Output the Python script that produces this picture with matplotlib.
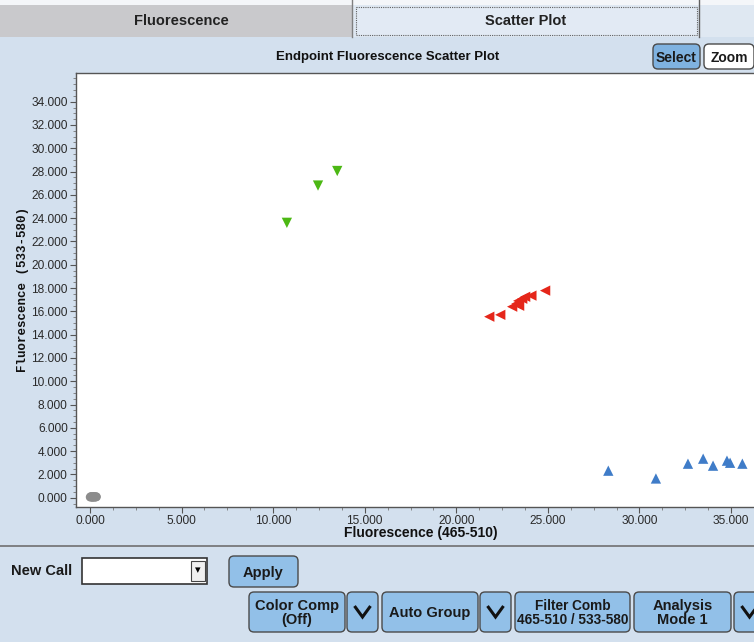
import matplotlib
matplotlib.use("Agg")
import matplotlib.pyplot as plt
from matplotlib.patches import Rectangle, FancyBboxPatch
from matplotlib.ticker import MultipleLocator, FixedLocator, FuncFormatter
from matplotlib import font_manager

# ---- data: endpoint fluorescence (465-510 vs 533-580) per sample group ----
neg_x = [10, 80, 150, 220, 290, 350, 50, 120, 190, 260, 330]
neg_y = [50, 80, 40, 90, 60, 70, 100, 30, 110, 40, 90]

green_x = [10750, 12450, 13500]
green_y = [23600, 26800, 28050]

red_x = [21800, 22400, 23050, 23280, 23430, 23380, 23600, 23760, 24100, 24850]
red_y = [15540, 15700, 16400, 16650, 16480, 16900, 17080, 17250, 17350, 17780]

blue_x = [28300, 30900, 32650, 33480, 34020, 34780, 34950, 35620]
blue_y = [2320, 1650, 2920, 3350, 2750, 3180, 3000, 2920]

x_ticks = [0, 5000, 10000, 15000, 20000, 25000, 30000, 35000]
y_ticks = list(range(0, 34001, 2000))

W, H = 754, 642
installed = {f.name for f in font_manager.fontManager.ttflist}
sans = [f for f in ["Liberation Sans Narrow", "Liberation Sans", "DejaVu Sans"] if f in installed]
mono = [f for f in ["Liberation Mono", "DejaVu Sans Mono", "Noto Sans Mono"] if f in installed]
plt.rcParams["font.family"] = sans

fig = plt.figure(figsize=(W / 100, H / 100), dpi=100)
fig.patch.set_facecolor("#d3e0ee")

# full-figure pixel canvas for the surrounding panel
ui = fig.add_axes([0, 0, 1, 1], zorder=0)
ui.set_xlim(0, W)
ui.set_ylim(H, 0)
ui.axis("off")

PANEL = "#d3e0ee"
BTN = "#92c0e8"
EDGE = "#4a4a4a"

ui.add_patch(Rectangle((0, 0), W, H, facecolor=PANEL, edgecolor="none"))
# tab strip
ui.add_patch(Rectangle((0, 0), W, 37, facecolor="#dfe8f2", edgecolor="none"))
ui.add_patch(Rectangle((0, 0), W, 5, facecolor="#f4f6f9", edgecolor="none"))
ui.add_patch(Rectangle((0, 5), 352, 32, facecolor="#c9c9cc", edgecolor="none"))
ui.plot([352, 352], [0, 37], color="#808080", lw=1)
ui.add_patch(Rectangle((356, 7), 341, 28, facecolor="#e2eaf4", edgecolor="#606060",
                       lw=0.8, ls=(0, (1, 1))))
ui.plot([699, 699], [0, 37], color="#606060", lw=1)
ui.text(181, 21, "Fluorescence", ha="center", va="center", fontsize=10.5,
        fontweight="bold", color="#222222")
ui.text(526, 21, "Scatter Plot", ha="center", va="center", fontsize=10.5,
        fontweight="bold", color="#222222")

ui.text(388, 57, "Endpoint Fluorescence Scatter Plot", ha="center", va="center",
        fontsize=9.5, fontweight="bold", color="#111111")


def button(x0, y0, w, h, label, fc=BTN, fs=10.5, pad=5):
    ui.add_patch(FancyBboxPatch((x0 + pad, y0 + pad), w - 2 * pad, h - 2 * pad,
                                boxstyle=f"round,pad={pad}", facecolor=fc,
                                edgecolor=EDGE, lw=1.0))
    ui.text(x0 + w / 2, y0 + h / 2 + 1, label, ha="center", va="center",
            fontsize=fs, fontweight="bold", color="#1a1a1a", linespacing=1.05)


button(653, 44, 47, 25, "Select", fc="#7fb2e0", fs=10)
button(704, 44, 50, 25, "Zoom", fc="#ffffff", fs=10)

# lower control area
ui.plot([0, W], [546, 546], color="#707070", lw=1.2)
ui.text(11, 571, "New Call", ha="left", va="center", fontsize=10.5,
        fontweight="bold", color="#1a1a1a")
ui.add_patch(Rectangle((82, 558), 125, 26, facecolor="white", edgecolor="#333333", lw=1.2))
ui.add_patch(Rectangle((191, 561), 14, 20, facecolor="#f0f0f0", edgecolor="#444444", lw=0.8))
ui.text(198, 570, "▾", ha="center", va="center", fontsize=8, color="black",
        family="DejaVu Sans")
button(229, 556, 69, 31, "Apply")

button(249, 592, 96, 40, "Color Comp\n(Off)")
button(347, 592, 31, 40, "")
button(382, 592, 96, 40, "Auto Group")
button(480, 592, 31, 40, "")
button(515, 592, 115, 40, "Filter Comb\n465-510 / 533-580", fs=9.8)
button(634, 592, 97, 40, "Analysis\nMode 1")
button(734, 592, 31, 40, "")
for cx in (362.5, 495.5, 749.5):
    ui.plot([cx - 8, cx, cx + 8], [606, 617, 606], color="#111111", lw=2.2,
            solid_capstyle="butt", solid_joinstyle="miter")

# ---- scatter plot ----
px_per_x = 641 / 35000.0
px_per_y = 396 / 34000.0
x0_px, y0_px = 90.0, 497.7
left, right, top, bottom = 76, 775, 73, 507

ax = fig.add_axes([left / W, 1 - bottom / H, (right - left) / W, (bottom - top) / H],
                  zorder=2)
ax.set_facecolor("white")
ax.set_xlim((left - x0_px) / px_per_x, (right - x0_px) / px_per_x)
ax.set_ylim((y0_px - bottom) / px_per_y, (y0_px - top) / px_per_y)

ax.scatter(neg_x, neg_y, s=40, marker="o", color="#8c8c8c", edgecolors="none", zorder=3)
ax.scatter(green_x, green_y, s=55, marker="v", color="#4cb814", edgecolors="none", zorder=3)
ax.scatter(red_x, red_y, s=55, marker="<", color="#e5261a", edgecolors="none", zorder=3)
ax.scatter(blue_x, blue_y, s=55, marker="^", color="#3f7cc8", edgecolors="none", zorder=3)

fmt = FuncFormatter(lambda v, p: f"{v / 1000:.3f}")
ax.xaxis.set_major_locator(FixedLocator(x_ticks))
ax.xaxis.set_minor_locator(MultipleLocator(1250))
ax.yaxis.set_major_locator(FixedLocator(y_ticks))
ax.yaxis.set_minor_locator(MultipleLocator(500))
ax.xaxis.set_major_formatter(fmt)
ax.yaxis.set_major_formatter(fmt)
ax.tick_params(axis="both", which="major", direction="out", length=4, width=0.8,
               color="#555555", labelsize=8.6, labelcolor="#2a2a2a", pad=2)
ax.tick_params(axis="both", which="minor", direction="out", length=2, width=0.6,
               color="#777777")
for s in ax.spines.values():
    s.set_color("#555555")
    s.set_linewidth(1.0)
ax.spines["right"].set_visible(False)

ax.set_xlabel("Fluorescence (465-510)", fontsize=10, fontweight="bold",
              color="#111111", va="center")
ax.xaxis.set_label_coords((421 - left) / (right - left), (bottom - 533) / (bottom - top))
ax.set_ylabel("Fluorescence (533-580)", fontsize=9, fontweight="bold",
              family=mono, color="#111111", va="center")
ax.yaxis.set_label_coords((23 - left) / (right - left), (bottom - 290) / (bottom - top))

fig.savefig("out.png", dpi=100, facecolor=fig.get_facecolor())
